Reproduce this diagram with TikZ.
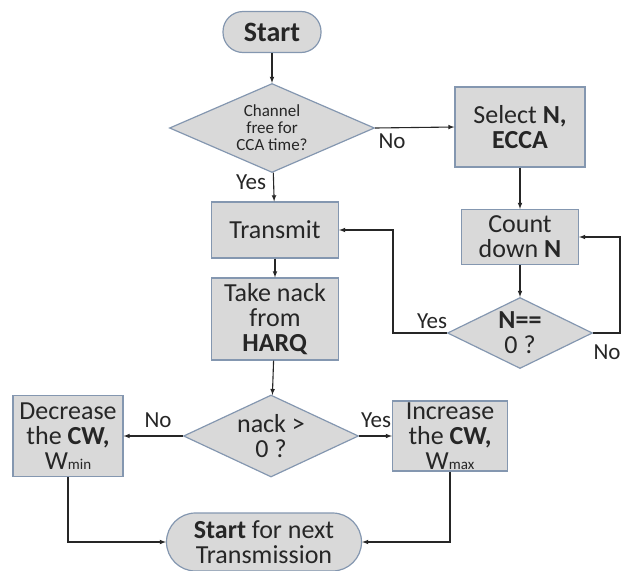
\documentclass[tikz,border=0pt]{standalone}
\usepackage{fontspec}
\setmainfont{Carlito}
\usetikzlibrary{shapes.geometric}

\definecolor{boxfill}{HTML}{D9D9D9}
\definecolor{boxline}{HTML}{8497B0}
\definecolor{txt}{HTML}{262626}

\tikzset{
  stepbox/.style={draw=boxline,fill=boxfill,line width=1.2pt,text=txt,
    align=center,inner sep=1pt,font=\fontsize{26}{25}\selectfont},
  decide/.style={diamond,draw=boxline,fill=boxfill,line width=1.2pt,text=txt,
    align=center,inner sep=0pt,font=\fontsize{26}{25}\selectfont},
  terminal/.style={stepbox,rounded corners=20pt},
  flow/.style={->,>=latex,line width=1.1pt,draw=black!85},
  lbl/.style={text=txt,inner sep=0pt,font=\fontsize{23}{25}\selectfont}
}

\begin{document}
\begin{tikzpicture}[x=1pt,y=-1pt]
            \useasboundingbox (0,0) rectangle (628,570);

            \node [terminal,minimum width=98,minimum height=41,font=\fontsize{28}{28}\selectfont] (start) at (272,32) {\textbf{Start}};
            \node [decide,shape aspect=2.3,minimum width=205,minimum height=89,
               font=\fontsize{17}{17}\selectfont] (chan) at (272,128) {Channel\\free for\\CCA time?};
            \node [stepbox,minimum width=130,minimum height=80] (select) at (520,127) {Select \textbf{N,}\\\textbf{ECCA}};
            \node [stepbox,minimum width=127,minimum height=56] (transmit) at (275,230) {Transmit};
            \node [stepbox,minimum width=117,minimum height=55] (count) at (520,237) {Count\\down \textbf{N}};
            \node [stepbox,minimum width=127,minimum height=82] (nackin) at (275,319) {Take nack\\from\\\textbf{HARQ}};
            \node [decide,shape aspect=2,minimum width=145,minimum height=71] (zero) at (520,333) {\textbf{N==}\\0 ?};
            \node [decide,shape aspect=2.1,minimum width=175,minimum height=82] (nack) at (271,436) {nack >\\0 ?};
            \node [stepbox,minimum width=110,minimum height=81] (decrease) at (68,436)
               {Decrease\\the \textbf{CW,}\\W{\fontsize{15}{16}\selectfont min}};
            \node [stepbox,minimum width=115,minimum height=70] (increase) at (450,436)
               {Increase\\the \textbf{CW,}\\W{\fontsize{15}{16}\selectfont max}};
            \node [terminal,rounded corners=29pt,minimum width=195,minimum height=58] (next) at (264,542)
               {\textbf{Start} for next\\Transmission};

            \coordinate (loopno) at (620,333);
            \coordinate (loopyes) at (393,333);

            \draw [flow] (start) -- (chan);
            \draw [flow] (chan.east) -- (select.west);
            \draw [flow] (chan) -- (transmit);
            \draw [flow] (select) -- (count);
            \draw [flow] (count) -- (zero);
            \draw [flow] (zero.east) -- (loopno) |- (count.east);
            \draw [flow] (zero.west) -- (loopyes) |- (transmit.east);
            \draw [flow] (transmit) -- (nackin);
            \draw [flow] (nackin) -- (nack);
            \draw [flow] (nack.west) -- (decrease.east);
            \draw [flow] (nack.east) -- (increase.west);
            \draw [flow] (decrease.south) |- (next.west);
            \draw [flow] (increase.south) |- (next.east);

            \node [lbl] (channo) at (392,141) {No};
            \node [lbl] (chanyes) at (251,182) {Yes};
            \node [lbl] (zeroyes) at (432,321) {Yes};
            \node [lbl] (zerono) at (607,352) {No};
            \node [lbl] (nackno) at (158,420) {No};
            \node [lbl] (nackyes) at (376,420) {Yes};
         \end{tikzpicture}
\end{document}
